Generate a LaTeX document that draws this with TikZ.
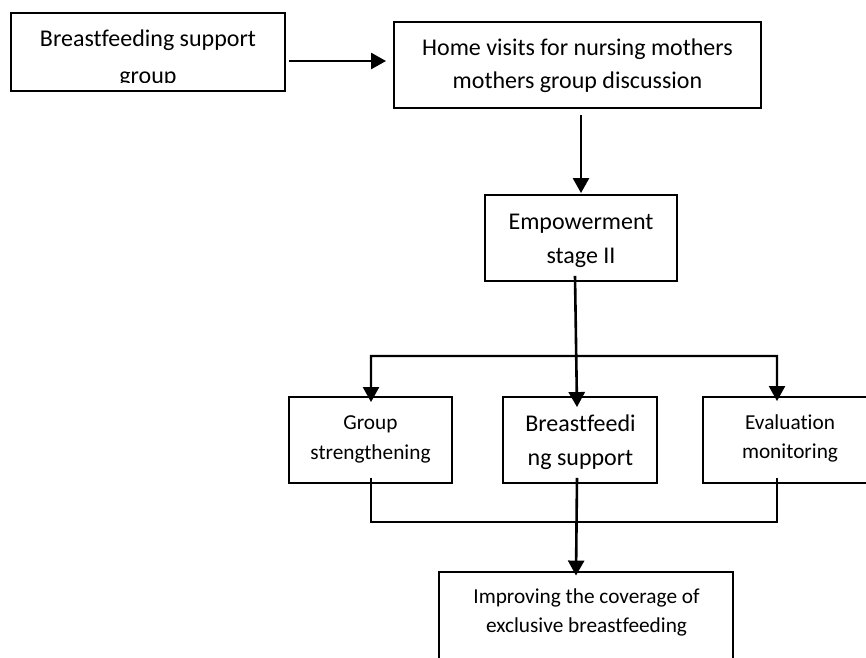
\documentclass[tikz,border=0pt]{standalone}
\usepackage{fontspec}
\setmainfont{Carlito}[Ligatures=NoCommon]
\usetikzlibrary{arrows.meta,calc}
\begin{document}
\begin{tikzpicture}[x=1pt,y=-1pt,
  box/.style={draw, line width=1.9pt, inner sep=0pt},
  arr/.style={line width=2.6pt, -{Triangle[length=15pt,width=16pt]}},
  link/.style={line width=2pt},
  tbig/.style={font=\fontsize{24}{29}\selectfont, inner sep=0pt, anchor=base},
  tsmall/.style={font=\fontsize{21.3}{25}\selectfont, inner sep=0pt, anchor=base}]
\useasboundingbox (0,0) rectangle (866,657);
\clip (0,0) rectangle (866,657);
% boxes
\node[box, minimum width=274pt, minimum height=78pt] (b1) at (148,52) {};
\node[box, minimum width=367pt, minimum height=86pt] (b2) at (577.5,65) {};
\node[box, minimum width=192pt, minimum height=86pt] (emp) at (581,238) {};
\node[box, minimum width=163pt, minimum height=86pt] (grp) at (370.5,440) {};
\node[box, minimum width=154pt, minimum height=86pt] (bfs) at (580,440) {};
\node[box, minimum width=174pt, minimum height=86pt] (evl) at (790,440) {};
\node[box, minimum width=294pt, minimum height=108pt] (imp) at (586,626) {};
% texts
\node[tbig] (b1a) at (148,46.7) {Breastfeeding support};
\begin{scope}
  \clip (11,13) rectangle (285,82);
  \node[tbig] (b1b) at (148,83) {group};
\end{scope}
\node[tbig] (b2a) at (577.5,55) {Home visits for nursing mothers};
\node[tbig] (b2b) at (577.5,88.3) {mothers group discussion};
\node[tbig] (empa) at (581,229.3) {Empowerment};
\node[tbig] (empb) at (581,263.3) {stage II};
\node[tsmall] (grpa) at (370.5,429.3) {Group};
\node[tsmall] (grpb) at (370.5,459) {strengthening};
\node[tbig] (bfsa) at (580.5,431.7) {Breastfeedi};
\node[tbig] (bfsb) at (580.5,465) {ng support};
\node[tsmall] (evla) at (790,429.3) {Evaluation};
\node[tsmall] (evlb) at (790,458.3) {monitoring};
\node[tsmall] (impa) at (586.5,603.3) {Improving the coverage of};
\node[tsmall] (impb) at (586.5,632.7) {exclusive breastfeeding};
% connectors
\draw[arr] ($(b1.east)+(3,9)$) -- ($(b2.west)+(-7,-4)$);
\draw[arr] ($(b2.south)+(3.5,6)$) -- ($(emp.north)+(0,-1)$);
\draw[arr] ($(emp.south)+(-6,-6)$) -- ($(bfs.north)+(-3,11)$);
\coordinate (barL) at ($(grp.north)+(0.5,-40)$);
\coordinate (barR) at ($(evl.north)+(-13,-40)$);
\coordinate (barM) at ($(barL)!0.5!(barR)$);
\draw[arr, line width=2.2pt] (barM) -- (barL) -- ($(grp.north)+(0.5,6)$);
\draw[arr, line width=2.2pt] (barM) -- (barR) -- ($(evl.north)+(-13,5)$);
\draw[link] ($(grp.south)+(0.5,-6)$) -- ++(0,44) -| ($(evl.south)+(-13,-6)$);
\draw[arr] ($(bfs.south)+(-3,-6)$) -- ($(imp.north)+(-10,4.5)$);
\end{tikzpicture}
\end{document}
